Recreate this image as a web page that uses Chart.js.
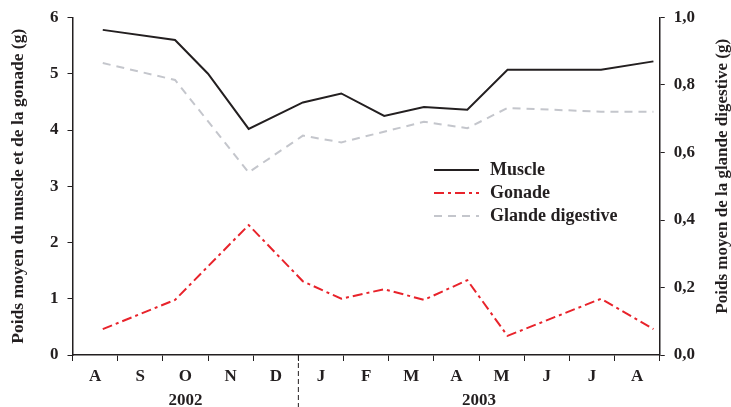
<!DOCTYPE html>
<html>
<head>
<meta charset="utf-8">
<script src="https://cdn.jsdelivr.net/npm/chart.js@4/dist/chart.umd.min.js"></script>
<style>
  html, body { margin: 0; padding: 0; background: #fff; }
  #wrap { width: 731px; height: 407px; }
</style>
</head>
<body>
<div id="wrap"><canvas id="poidsChart"></canvas></div>
<script>
// mois depuis le 1er août 2002 (position des prélèvements)
var dates = [0.67, 2.27, 3.0, 3.9, 5.1, 5.95, 6.9, 7.78, 8.74, 9.63, 11.7, 12.86];
var muscle = [5.78, 5.6, 5.0, 4.02, 4.49, 4.65, 4.25, 4.41, 4.36, 5.07, 5.07, 5.22];
var gonade = [0.46, 0.98, null, 2.31, 1.31, 1.0, 1.17, 0.98, 1.33, 0.34, 1.0, 0.46];
var glande = [0.865, 0.815, null, 0.541, 0.65, 0.63, null, 0.691, 0.672, 0.732, 0.721, 0.721];

var moisLabels = ["A", "S", "O", "N", "D", "J", "F", "M", "A", "M", "J", "J", "A"];
var annees = ["2002", "2003"];
var anneePos = [2.5, 9];
var coupure = 5; // début 2003

var titreGauche = "Poids moyen du muscle et de la gonade (g)";
var titreDroite = "Poids moyen de la glande digestive (g)";

var police = "'Liberation Serif', 'Times New Roman', serif";
var noir = "#231f20";

function pts(vals) {
  return dates.map(function (d, i) {
    return { x: d, y: vals[i] };
  });
}

// ticks : entiers = graduations, demi-valeurs = lettres des mois
var xTicks = [];
for (var i = 0; i <= moisLabels.length; i++) {
  xTicks.push({ value: i });
  if (i < moisLabels.length) xTicks.push({ value: i + 0.5 });
}

// légende dessinée dans la zone du graphique
var legendePlugin = {
  id: "legendeInterne",
  afterDatasetsDraw: function (chart) {
    var ctx = chart.ctx;
    var rows = [170, 193, 216];
    ctx.save();
    chart.data.datasets.forEach(function (ds, i) {
      var y = rows[i];
      ctx.beginPath();
      ctx.strokeStyle = ds.borderColor;
      ctx.lineWidth = ds.borderWidth;
      ctx.setLineDash(ds.borderDash || []);
      ctx.moveTo(434, y);
      ctx.lineTo(479, y);
      ctx.stroke();
      ctx.setLineDash([]);
      ctx.fillStyle = noir;
      ctx.font = "bold 18px " + police;
      ctx.textBaseline = "middle";
      ctx.fillText(ds.label, 490, y);
    });
    ctx.restore();
  },
};

// trait pointillé vertical entre 2002 et 2003 + titre de l'axe de droite (lu de bas en haut)
var decorPlugin = {
  id: "decor",
  afterDraw: function (chart) {
    var ctx = chart.ctx;
    var area = chart.chartArea;
    var x = chart.scales.x.getPixelForValue(coupure);
    ctx.save();
    ctx.strokeStyle = noir;
    ctx.lineWidth = 1;
    ctx.setLineDash([5, 3]);
    ctx.beginPath();
    ctx.moveTo(x, area.bottom);
    ctx.lineTo(x, chart.height);
    ctx.stroke();
    ctx.setLineDash([]);

    ctx.translate(chart.width - 8, (area.top + area.bottom) / 2 - 10);
    ctx.rotate(-Math.PI / 2);
    ctx.fillStyle = noir;
    ctx.font = "bold 17px " + police;
    ctx.textAlign = "center";
    ctx.textBaseline = "middle";
    ctx.fillText(titreDroite, 0, 0);
    ctx.restore();
  },
};

var config = {
  type: "line",
  data: {
    datasets: [
      {
        label: "Muscle",
        data: pts(muscle),
        borderColor: noir,
        borderWidth: 2,
        yAxisID: "y",
      },
      {
        label: "Gonade",
        data: pts(gonade),
        borderColor: "#e8232b",
        borderWidth: 2,
        borderDash: [10, 4, 3, 4],
        yAxisID: "y",
      },
      {
        label: "Glande digestive",
        data: pts(glande),
        borderColor: "#c4c6cc",
        borderWidth: 2,
        borderDash: [8, 6],
        yAxisID: "y1",
      },
    ],
  },
  options: {
    responsive: true,
    maintainAspectRatio: false,
    animation: false,
    spanGaps: true,
    elements: {
      point: { radius: 0 },
      line: { tension: 0 },
    },
    layout: {
      padding: { top: 4, right: 27, left: 6, bottom: -2 },
    },
    plugins: {
      legend: { display: false },
      tooltip: { enabled: false },
    },
    scales: {
      x: {
        type: "linear",
        position: "bottom",
        min: 0,
        max: moisLabels.length,
        afterBuildTicks: function (axis) {
          axis.ticks = xTicks.slice();
        },
        grid: {
          drawOnChartArea: false,
          tickLength: 6,
          tickColor: function (c) {
            return c.tick && Number.isInteger(c.tick.value) ? noir : "rgba(0,0,0,0)";
          },
        },
        border: { color: noir, width: 1.5 },
        ticks: {
          autoSkip: false,
          maxRotation: 0,
          padding: 7,
          color: noir,
          font: { family: police, size: 17, weight: "bold", lineHeight: 1 },
          callback: function (v) {
            return Number.isInteger(v) ? "" : moisLabels[Math.floor(v)];
          },
        },
      },
      annee: {
        type: "linear",
        position: "bottom",
        min: 0,
        max: moisLabels.length,
        afterBuildTicks: function (axis) {
          axis.ticks = anneePos.map(function (p) {
            return { value: p };
          });
        },
        grid: { display: false, drawTicks: false },
        border: { display: false },
        ticks: {
          autoSkip: false,
          maxRotation: 0,
          padding: 0,
          color: noir,
          font: { family: police, size: 17, weight: "bold", lineHeight: 1 },
          callback: function (v) {
            return annees[anneePos.indexOf(v)];
          },
        },
      },
      y: {
        position: "left",
        min: 0,
        max: 6,
        grid: { drawOnChartArea: false, tickLength: 5, tickColor: noir },
        border: { color: noir, width: 1.5 },
        ticks: {
          stepSize: 1,
          padding: 9,
          color: noir,
          font: { family: police, size: 17, weight: "bold", lineHeight: 1 },
        },
        title: {
          display: true,
          text: titreGauche,
          color: noir,
          font: { family: police, size: 17.5, weight: "bold" },
          padding: { top: 2, bottom: 12 },
        },
      },
      y1: {
        position: "right",
        min: 0,
        max: 1,
        grid: { drawOnChartArea: false, tickLength: 5, tickColor: noir },
        border: { color: noir, width: 1.5 },
        ticks: {
          stepSize: 0.2,
          padding: 9,
          color: noir,
          font: { family: police, size: 17, weight: "bold", lineHeight: 1 },
          callback: function (v) {
            return v.toFixed(1).replace(".", ",");
          },
        },
      },
    },
  },
  plugins: [legendePlugin, decorPlugin],
};

var poidsChart = new Chart(document.getElementById("poidsChart"), config);
</script>
</body>
</html>
